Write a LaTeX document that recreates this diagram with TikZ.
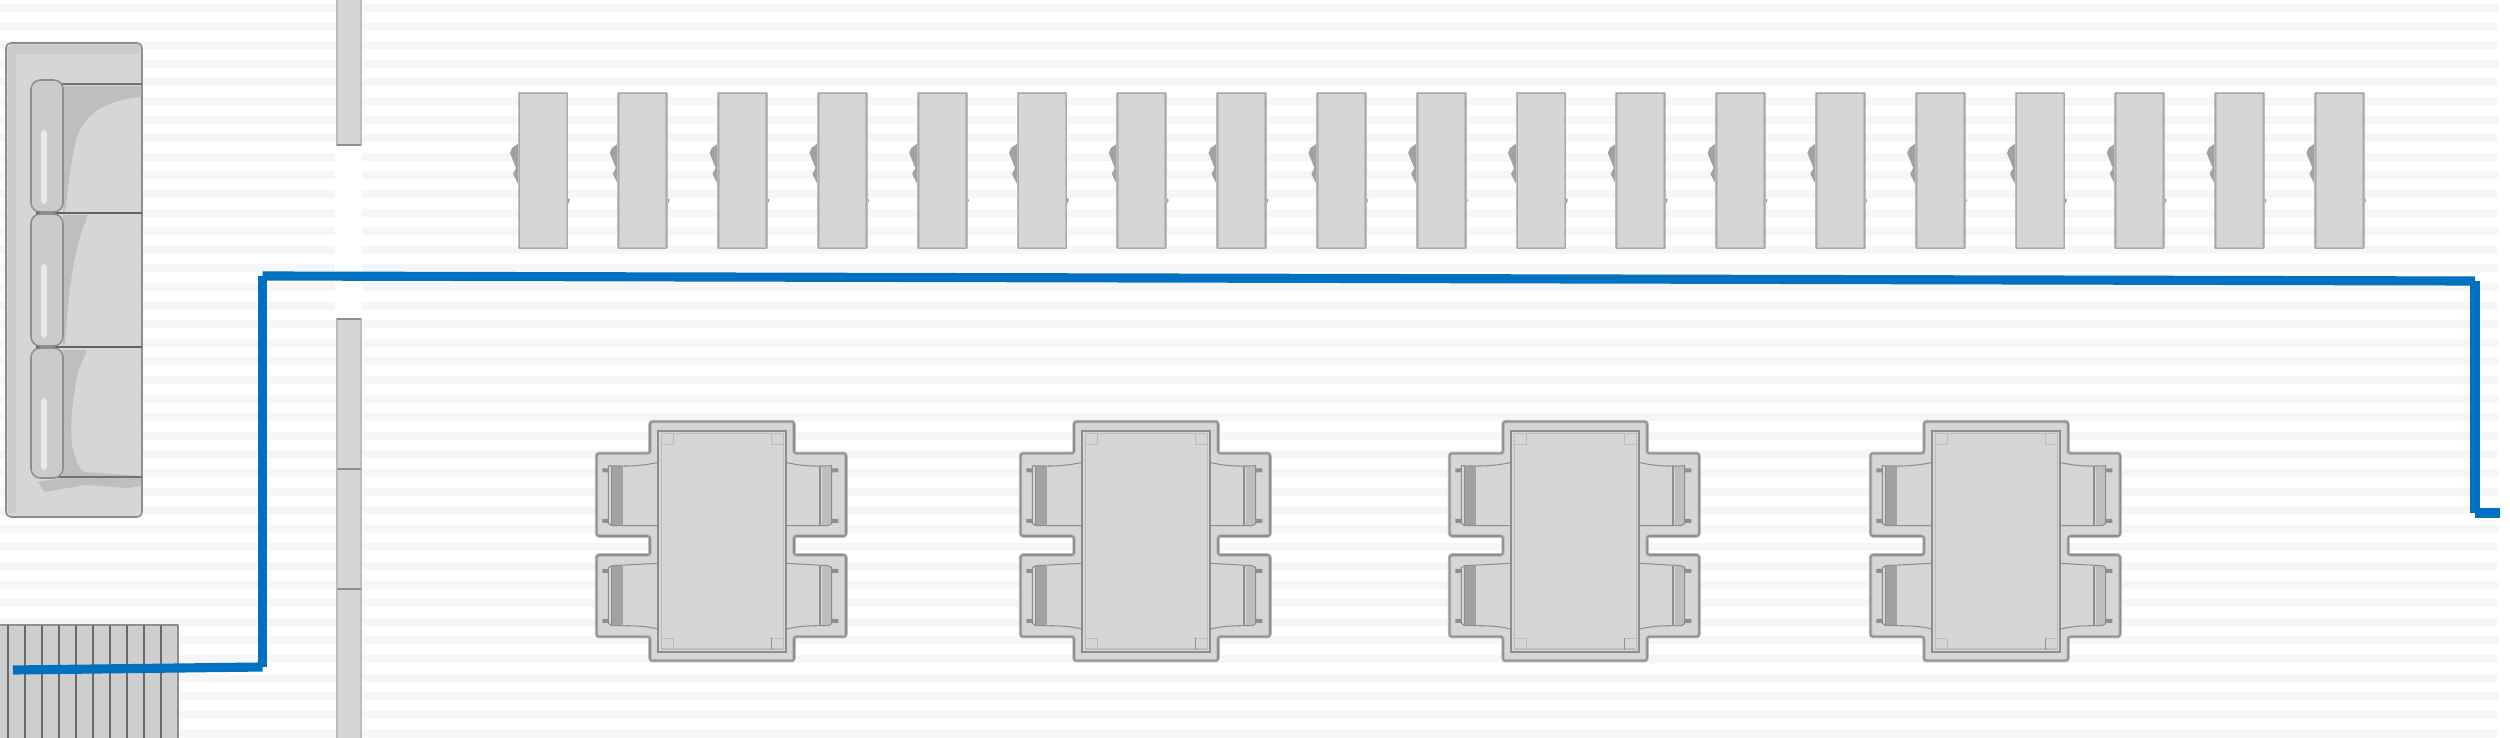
\documentclass[tikz,border=0pt]{standalone}
\definecolor{stripe}{HTML}{F6F6F6}
\definecolor{fur}{HTML}{D6D6D6}
\definecolor{edgedark}{HTML}{8E8E8E}
\definecolor{edgelite}{HTML}{BDBDBD}
\definecolor{furshade}{HTML}{BEBEBE}
\definecolor{route}{HTML}{0070C0}
\tikzset{
  halo/.style={draw=edgelite,line width=3pt,line join=round},
  core/.style={draw=edgedark,line width=1.3pt,line join=round},
  thin line/.style={draw=#1,line width=.9pt},
  thin line/.default=edgedark,
  routeseg/.style={draw=route,line width=7.8pt,line cap=butt},
  pics/desk/.style={code={
    \fill[furshade!85!black] (0,50) -- (-7,55) -- (-9,60) -- (-3,75) -- (-6,81) -- (-1,91) -- (2,91) -- cycle;
    \fill[furshade!85!black] (47,103) -- (51,107) -- (48,113) -- (46,113) -- cycle;
    \draw[fill=fur,draw=edgelite,line width=2.4pt,line join=round] (0,0) rectangle (48,155);
    \draw[draw=edgelite!90!black,line width=.8pt] (0,0) rectangle (48,155);
  }},
  pics/dining/.style={code={
    \begin{scope}[scale=1/3]
    \def\outline{(240,65) -- (672,65) -- (672,160) -- (828,160) -- (828,408) -- (672,408) -- (672,465) -- (828,465) -- (828,710) -- (672,710) -- (672,782) -- (240,782) -- (240,710) -- (80,710) -- (80,465) -- (240,465) -- (240,408) -- (80,408) -- (80,160) -- (240,160) -- cycle}
    \draw[fill=fur,halo,rounded corners=2pt] \outline;
    \draw[core,rounded corners=2pt] \outline;
    % left chairs
    \fill[furshade!85!black] (125,197) rectangle (160,375);
    \fill[furshade!85!black] (125,497) rectangle (160,675);
    \draw[thin line] (265,187) .. controls (220,197) and (180,200) .. (115,197) -- (115,370) -- (125,377) -- (265,377);
    \draw[thin line] (125,197) -- (125,377);
    \draw[thin line] (265,490) -- (125,497) -- (115,503) -- (115,670) -- (125,677) .. controls (190,677) and (230,677) .. (265,688);
    \draw[thin line] (125,497) -- (125,677);
    \fill[edgedark] (97,205) rectangle (115,217) (97,357) rectangle (115,369) (97,507) rectangle (115,519) (97,657) rectangle (115,669);
    % right chairs
    \fill[furshade] (755,197) rectangle (785,375);
    \fill[furshade] (755,497) rectangle (785,675);
    \draw[thin line] (647,187) .. controls (690,197) and (720,200) .. (785,197) -- (785,370) -- (775,377) -- (647,377);
    \draw[thin line] (750,197) -- (750,377);
    \draw[thin line] (647,490) -- (775,497) -- (785,503) -- (785,670) -- (775,677) .. controls (720,677) and (690,677) .. (647,688);
    \draw[thin line] (750,497) -- (750,677);
    \fill[edgedark] (785,205) rectangle (805,217) (785,357) rectangle (805,369) (785,507) rectangle (805,519) (785,657) rectangle (805,669);
    % table top
    \draw[fill=fur,draw=edgedark,line width=1.6pt] (265,93) rectangle (647,755);
    \draw[draw=edgelite,line width=.9pt] (275,101) rectangle (640,747);
    \draw[draw=edgelite,line width=.5pt] (275,133) -- (310,133) -- (310,101) (605,101) -- (605,133) -- (640,133) (275,715) -- (310,715) -- (310,747) (640,715) -- (605,715);
    \draw[thin line] (605,715) -- (605,750);
    \end{scope}
  }}
}
\begin{document}
\begin{tikzpicture}[x=0.03cm,y=-0.03cm]
\useasboundingbox (0,0) rectangle (2510,738);
\fill[white] (0,0) rectangle (2510,738);
% floor stripes
\foreach \k in {0,...,39} \fill[stripe] (0,{4+18.6*\k}) rectangle (2498,{12+18.6*\k});
\fill[white] (335,147) rectangle (362,318);
% wall
\draw[fill=fur,draw=edgelite,line width=2.2pt] (337,-5) rectangle (361,145);
\draw[fill=fur,draw=edgelite,line width=2.2pt] (337,319) rectangle (361,745);
\draw[thin line] (337,145) -- (361,145) (337,319) -- (361,319) (337,469) -- (361,469) (337,589) -- (361,589);
% sofa
\draw[fill=fur,core,rounded corners=4pt] (6,43) rectangle (142,517);
\fill[furshade!80!white] (8,47) rectangle (16,513);
\fill[furshade!80!white] (10,45) rectangle (140,54);
\fill[furshade] (63,86) -- (141,86) -- (141,97) .. controls (110,100) and (85,110) .. (76,140) .. controls (70,165) and (68,190) .. (65,212) -- (63,212) -- cycle;
\fill[furshade] (63,215) -- (88,215) .. controls (78,240) and (70,265) .. (65,345) -- (63,345) -- cycle;
\fill[furshade] (63,350) -- (87,350) -- (78,372) .. controls (72,400) and (70,430) .. (72,445) .. controls (75,460) and (80,470) .. (85,472) -- (141,476) -- (141,486) -- (127,488) -- (85,485) -- (45,492) -- (38,482) -- (63,478) -- cycle;
\draw[draw=edgedark!80!black,line width=1.2pt] (142,84) -- (60,84);
\draw[draw=edgedark!70!black,line width=1.2pt] (142,213) -- (36,213);
\draw[draw=edgedark!70!black,line width=1.2pt] (142,347) -- (36,347);
\draw[draw=edgedark!80!black,line width=1.6pt] (142,477) -- (50,477);
\foreach \ya/\yb in {80/212,214/346,348/478}{
  \draw[fill=fur!95!black,core,rounded corners=8pt] (31,\ya) rectangle (63,\yb);
  \fill[fur!55!white,rounded corners=3pt] (41,{\ya+50}) rectangle (47,{\yb-8});
}
% rug
\fill[fur!96!black] (0,625) rectangle (178,738);
\draw[core] (0,625) -- (178,625) -- (178,738);
\foreach \x in {8,25,42,59,76,93,110,127,144,161} \draw[draw=edgedark!75!black,line width=1.5pt] (\x,625) -- (\x,738);
% desks
\foreach \k in {0,...,18} \pic at ({519+99.8*\k},93) {desk};
% dining sets
\foreach \d in {0,424,853,1274} \pic at ({570+\d},400) {dining};
% route
\coordinate (r0) at (13,670);
\coordinate (r1) at (262.5,667);
\coordinate (r2) at (262.5,276);
\coordinate (r3) at (2475,281);
\coordinate (r4) at (2475,513);
\coordinate (r5) at (2500,513);
\draw[routeseg] (r0) -- (r1);
\draw[routeseg] (r1) -- (r2);
\draw[routeseg] (r2) -- (r3);
\draw[routeseg] (r3) -- (r4);
\draw[routeseg] (r4) -- (r5);
\end{tikzpicture}
\end{document}
